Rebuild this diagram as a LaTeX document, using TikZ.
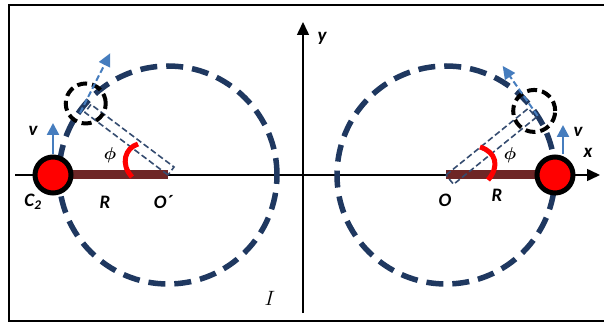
\documentclass[tikz,border=0pt]{standalone}
\usepackage{fontspec}
\usepackage{bm}
\setmainfont{Carlito}
\usetikzlibrary{arrows.meta,calc,positioning}
\definecolor{orbitblue}{RGB}{31,56,96}
\definecolor{velblue}{RGB}{70,125,190}
\definecolor{rodred}{RGB}{110,38,38}

\begin{document}
\begin{tikzpicture}[x=1pt, y=1pt,
    orbit/.style={draw=orbitblue, line width=5.5pt, dash pattern=on 17pt off 9pt},
    ghost/.style={draw=black, line width=4pt, dash pattern=on 10pt off 5pt},
    rod/.style={draw=rodred, line width=9pt},
    armbox/.style={draw=orbitblue!90, line width=1.6pt, dash pattern=on 6pt off 3pt},
    disc/.style={circle, fill=red, draw=black, line width=5pt, minimum size=36pt, inner sep=0pt},
    axisline/.style={line width=1.5pt, -{Triangle[length=13pt, width=12pt]}},
    vel/.style={draw=velblue, fill=velblue, line width=2.5pt, -{Triangle[length=12pt, width=12pt]}},
    tang/.style={draw=velblue, line width=2pt, dash pattern=on 6pt off 3pt, -{Triangle[length=13pt, width=12pt, fill=velblue]}},
    angmark/.style={draw=red, line width=5pt},
    lbl/.style={font=\fontsize{19}{22}\selectfont\bfseries\itshape}
]
\useasboundingbox (0,0) rectangle (604,324);

% Frame
\draw[line width=2pt] (620,3) -- (9,3) -- (9,319) -- (620,319);

% Centres and moving points
\coordinate (O2) at (168,149);
\coordinate (O1) at (446,149);
\coordinate (c2) at (53,149);
\coordinate (c1) at (555,149);
\coordinate (P2) at ($(O2)+(139:109)$);
\coordinate (P1) at ($(O1)+(36:109)$);

% Axes
\coordinate (xs) at (15,149);
\coordinate (xe) at (600,149);
\coordinate (ys) at (303,11);
\coordinate (ye) at (303,302);
\draw[axisline] (xs) -- (xe);
\draw[axisline] (ys) -- (ye);

% Orbits
\draw[orbit] (O2) circle[radius=109];
\draw[orbit] (O1) circle[radius=109];

% Rods
\draw[rod] (c2) -- (O2);
\draw[rod] (O1) -- (c1);

% Rotated arms
\draw[armbox] (O2) -- ($(O2)+(143:104)$) -- ($(O2)+(143:104)+(53:10)$) -- ($(O2)+(53:10)$) -- cycle;
\draw[armbox] (O1) -- ($(O1)+(39:106)$) -- ($(O1)+(39:106)+(-51:12)$) -- ($(O1)+(-51:12)$) -- cycle;

% Angle marks
\draw[angmark] (132,147) .. controls (120,160) and (125,176) .. (138,180);
\draw[angmark] (480,177) .. controls (496,172) and (500,158) .. (488,144);

% Later positions
\draw[ghost] (P2) circle[radius=20];
\draw[ghost] (P1) circle[radius=21];

% Tangent directions
\coordinate (t2s) at ($(P2)+(239:11)$);
\coordinate (t2e) at ($(P2)+(64:56)$);
\coordinate (t1s) at ($(P1)+(305:6)$);
\coordinate (t1e) at ($(P1)+(125:55)$);
\draw[tang] (t2s) -- (t2e);
\draw[tang] (t1s) -- (t1e);

% Bodies
\node[disc] (C2) at (c2) {};
\node[disc] (C1) at (c1) {};

% Velocities
\coordinate (v2) at (53,201);
\coordinate (v1) at (563,199);
\draw[vel] (C2) -- (v2);
\draw[vel] (C1.north -| v1) -- (v1);

% Labels
\node[lbl] (lC2) at (33,122) {C\textsubscript{2}};
\node[lbl] (lR2) at (105,122) {R};
\node[lbl] (lO2) at (163,122) {O´};
\node[lbl] (lphi2) at (110,169) {$\bm{\phi}$};
\node[lbl] (lv2) at (33,193) {v};
\node[lbl] (lO1) at (445,124) {O};
\node[lbl] (lR1) at (497,129) {R};
\node[lbl] (lphi1) at (510,169) {$\bm{\phi}$};
\node[lbl] (lv1) at (578,192) {v};
\node[lbl] (lx) at (588,171) {x};
\node[lbl] (ly) at (322,286) {y};
\node[font=\fontsize{22}{24}\selectfont] (lI) at (270,26) {$I$};

\end{tikzpicture}
\end{document}
